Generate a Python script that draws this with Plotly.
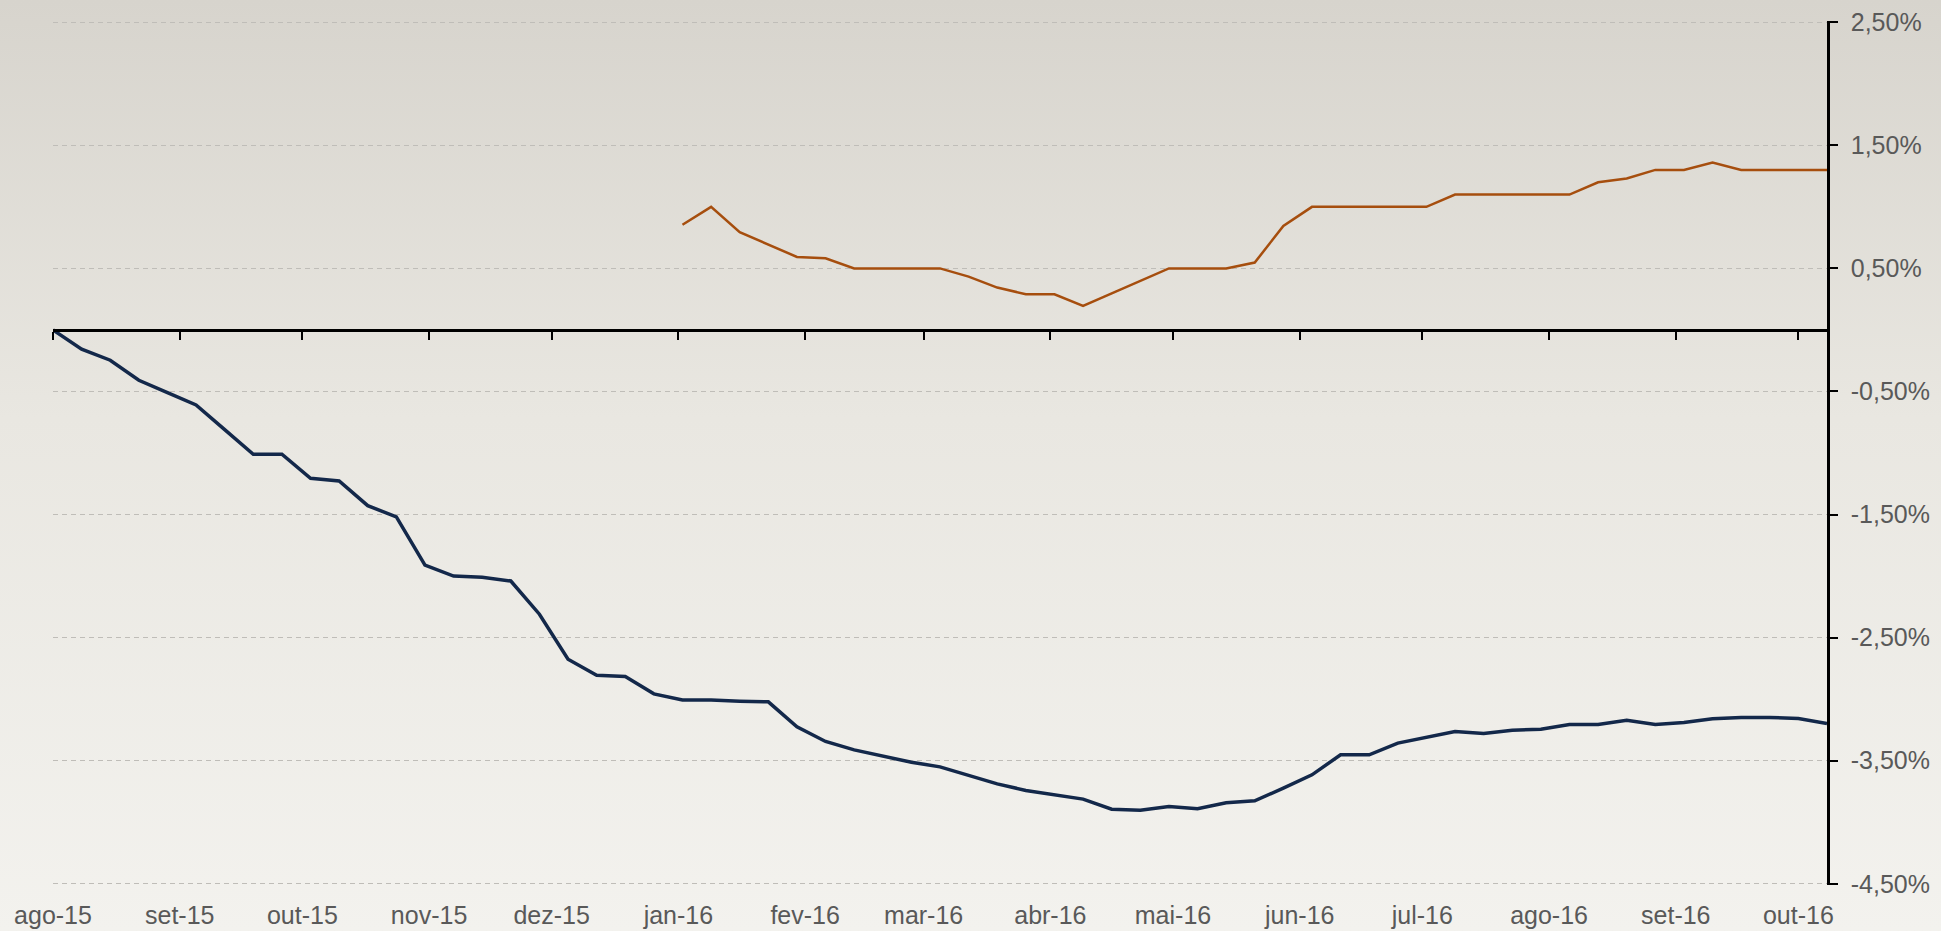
"""
Weekly cumulative change chart (Plotly recreation).
"""

import base64

import pandas as pd
import plotly.graph_objects as go

# ── Data ──────────────────────────────────────────────────────────────────────

# weekly observations, first one on 1 Aug 2015
week_dates = pd.date_range("2015-08-01", periods=63, freq="7D")

navy_values = [
    0.0, -0.157, -0.246, -0.409, -0.509, -0.609, -0.81, -1.01, -1.01, -1.205,
    -1.227, -1.428, -1.519, -1.911, -2.0, -2.01, -2.04, -2.31, -2.675, -2.806,
    -2.816, -2.957, -3.007, -3.007, -3.017, -3.022, -3.225, -3.344, -3.412, -3.463,
    -3.512, -3.55, -3.62, -3.688, -3.742, -3.777, -3.812, -3.894, -3.902, -3.872,
    -3.891, -3.842, -3.826, -3.723, -3.615, -3.452, -3.452, -3.357, -3.312, -3.263,
    -3.279, -3.252, -3.244, -3.206, -3.206, -3.171, -3.206, -3.19, -3.16, -3.149,
    -3.149, -3.157, -3.198,
]

# series starts in the first week of January 2016
brown_values = [None] * 22 + [
    0.855, 1.0, 0.794, 0.693, 0.593, 0.582, 0.5, 0.5, 0.5, 0.5,
    0.433, 0.344, 0.29, 0.29, 0.195, 0.296, 0.396, 0.5, 0.5, 0.5,
    0.547, 0.845, 1.0, 1.0, 1.0, 1.0, 1.0, 1.1, 1.1, 1.1,
    1.1, 1.1, 1.2, 1.23, 1.3, 1.3, 1.36, 1.3, 1.3, 1.3,
    1.3,
]

month_ticks = pd.date_range("2015-08-01", "2016-10-01", freq="MS")
month_labels = [
    "ago-15", "set-15", "out-15", "nov-15", "dez-15", "jan-16", "fev-16", "mar-16",
    "abr-16", "mai-16", "jun-16", "jul-16", "ago-16", "set-16", "out-16",
]

y_ticks = [-4.5, -3.5, -2.5, -1.5, -0.5, 0.5, 1.5, 2.5]
y_labels = ["-4,50%", "-3,50%", "-2,50%", "-1,50%", "-0,50%", "0,50%", "1,50%", "2,50%"]

# ── Styling ───────────────────────────────────────────────────────────────────

W, H = 1941, 931
MARGIN = dict(l=53, r=114, t=21, b=46)
LABEL_COLOR = "#595959"
FONT = "Liberation Sans, Arial, sans-serif"

# soft vertical gradient behind the whole chart
_svg = (
    f'<svg xmlns="http://www.w3.org/2000/svg" width="{W}" height="{H}" preserveAspectRatio="none">'
    '<defs><linearGradient id="g" x1="0" y1="0" x2="0" y2="1">'
    '<stop offset="0" stop-color="#d7d4cd"/>'
    '<stop offset="0.45" stop-color="#e9e7e1"/>'
    '<stop offset="1" stop-color="#f3f2ee"/>'
    '</linearGradient></defs>'
    f'<rect width="{W}" height="{H}" fill="url(#g)"/></svg>'
)
_bg_uri = "data:image/svg+xml;base64," + base64.b64encode(_svg.encode()).decode()

plot_w = W - MARGIN["l"] - MARGIN["r"]
plot_h = H - MARGIN["t"] - MARGIN["b"]

# ── Figure ────────────────────────────────────────────────────────────────────

fig = go.Figure()

fig.add_trace(
    go.Scatter(
        x=week_dates,
        y=navy_values,
        mode="lines",
        line=dict(color="#13284a", width=3.5),
        hovertemplate="%{x|%d/%m/%Y}: %{y:.2f}%<extra></extra>",
    )
)
fig.add_trace(
    go.Scatter(
        x=week_dates,
        y=brown_values,
        mode="lines",
        xaxis="x2",
        line=dict(color="#a64e0e", width=2.5),
        connectgaps=False,
        hovertemplate="%{x|%d/%m/%Y}: %{y:.2f}%<extra></extra>",
    )
)

x_range = ["2015-08-01", "2016-10-08"]
# a hair of padding so the outermost dashed gridlines still get drawn
y_range = [-4.51, 2.51]
zero_pos = -y_range[0] / (y_range[1] - y_range[0])

fig.update_layout(
    width=W,
    height=H,
    margin=MARGIN,
    showlegend=False,
    paper_bgcolor="#ebe9e4",
    plot_bgcolor="rgba(0,0,0,0)",
    font=dict(family=FONT, color=LABEL_COLOR),
    images=[
        dict(
            source=_bg_uri,
            xref="paper",
            yref="paper",
            x=-MARGIN["l"] / plot_w,
            y=1 + MARGIN["t"] / plot_h,
            sizex=W / plot_w,
            sizey=H / plot_h,
            sizing="stretch",
            xanchor="left",
            yanchor="top",
            layer="below",
        )
    ],
    # month labels sit at the bottom of the plot
    xaxis=dict(
        type="date",
        range=x_range,
        tickvals=month_ticks,
        ticktext=month_labels,
        tickfont=dict(size=25, color=LABEL_COLOR),
        ticks="",
        ticklabelstandoff=13,
        showline=False,
        showgrid=False,
        zeroline=False,
        automargin=False,
    ),
    # axis line + tick marks drawn at y = 0
    xaxis2=dict(
        type="date",
        overlaying="x",
        matches="x",
        anchor="free",
        position=zero_pos,
        side="bottom",
        tickvals=month_ticks,
        showticklabels=False,
        ticks="outside",
        ticklen=8,
        tickwidth=2,
        tickcolor="black",
        showline=True,
        linecolor="black",
        linewidth=2.5,
        showgrid=False,
        zeroline=False,
        automargin=False,
    ),
    yaxis=dict(
        side="right",
        range=y_range,
        tickvals=y_ticks,
        ticktext=y_labels,
        tickfont=dict(size=25, color=LABEL_COLOR),
        ticks="outside",
        ticklen=8,
        tickwidth=2,
        tickcolor="black",
        ticklabelstandoff=8,
        showline=True,
        linecolor="black",
        linewidth=2.5,
        showgrid=True,
        gridcolor="#bfbdb8",
        gridwidth=1.4,
        griddash="5px,4px",
        zeroline=False,
        automargin=False,
    ),
)

# drop the browser's default page margin so the chart fills the window
fig.write_html(
    "out.html",
    config={"displayModeBar": False},
    post_script="document.body.style.margin='0';document.body.style.overflow='hidden';",
)
